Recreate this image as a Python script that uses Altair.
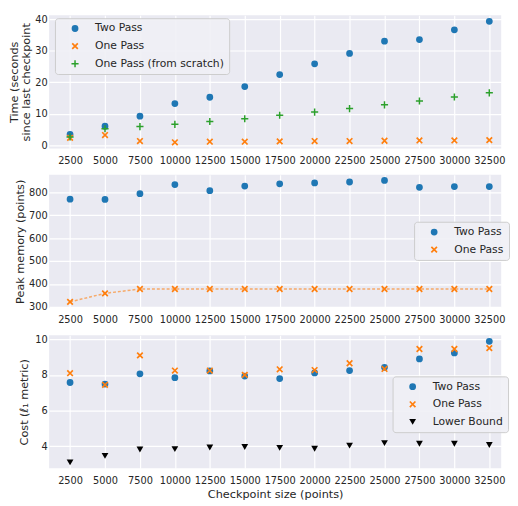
import altair as alt
import pandas as pd

checkpoints = [2500, 5000, 7500, 10000, 12500, 15000, 17500, 20000, 22500, 25000, 27500, 30000, 32500]

time_two_pass = [3.4, 6.0, 9.2, 13.2, 15.2, 18.6, 22.4, 25.8, 29.1, 33.0, 33.5, 36.6, 39.3]
time_one_pass = [2.3, 3.2, 1.3, 0.9, 1.1, 1.1, 1.2, 1.3, 1.3, 1.4, 1.5, 1.5, 1.6]
time_one_pass_scratch = [2.6, 5.2, 5.9, 6.6, 7.5, 8.4, 9.5, 10.5, 11.6, 12.8, 14.0, 15.3, 16.6]

mem_two_pass = [770, 769, 794, 834, 807, 827, 837, 841, 845, 852, 822, 825, 825]
mem_one_pass = [322, 359, 378, 378, 378, 378, 378, 378, 378, 378, 378, 378, 378]

cost_two_pass = [7.58, 7.49, 8.07, 7.85, 8.23, 7.94, 7.80, 8.12, 8.25, 8.43, 8.90, 9.24, 9.89]
cost_one_pass = [8.10, 7.45, 9.10, 8.25, 8.25, 8.01, 8.32, 8.28, 8.66, 8.34, 9.46, 9.46, 9.51]
cost_lower_bound = [3.10, 3.46, 3.82, 3.84, 3.93, 3.96, 3.91, 3.86, 4.04, 4.18, 4.14, 4.14, 4.07]

S_TWO = "Two Pass"
S_ONE = "One Pass"
S_SCR = "One Pass (from scratch)"
S_LB = "Lower Bound"

colors = {S_TWO: "#1f77b4", S_ONE: "#ff7f0e", S_SCR: "#2ca02c", S_LB: "#000000"}
X_PATH = ("M-0.65,-1.0L1.0,0.65L0.65,1.0L-1.0,-0.65Z"
          "M0.65,-1.0L1.0,-0.65L-0.65,1.0L-1.0,0.65Z")
PLUS_PATH = ("M-1.05,-0.22L-0.22,-0.22L-0.22,-1.05L0.22,-1.05L0.22,-0.22L1.05,-0.22"
             "L1.05,0.22L0.22,0.22L0.22,1.05L-0.22,1.05L-0.22,0.22L-1.05,0.22Z")
shapes = {S_TWO: "circle", S_ONE: X_PATH, S_SCR: PLUS_PATH, S_LB: "triangle-down"}

W = 462
H = 136
X_DOMAIN = [1000, 33350]
FONT = "DejaVu Sans"
MSIZE = 48


def long_df(series):
    rows = []
    for name, vals in series:
        for c, v in zip(checkpoints, vals):
            rows.append({"checkpoint": c, "value": v, "series": name})
    return pd.DataFrame(rows)


def x_enc(title):
    ax = dict(values=checkpoints, format="d", labelOverlap=False, labelPadding=7,
              titlePadding=4)
    return alt.X("checkpoint:Q", scale=alt.Scale(domain=X_DOMAIN, nice=False, zero=False),
                 axis=alt.Axis(title=title, **ax))


def y_enc(y_title, y_domain, y_values, title_pad):
    return alt.Y("value:Q", scale=alt.Scale(domain=y_domain, nice=False, zero=False),
                 axis=alt.Axis(title=y_title, values=y_values, titlePadding=title_pad,
                               labelOverlap=False))


def points(df, series_list, y_title, y_domain, y_values, lx, ly, x_title, title_pad):
    legend = alt.Legend(orient="none", legendX=lx, legendY=ly, title=None)
    return alt.Chart(df).mark_point(filled=True, size=MSIZE, opacity=1).encode(
        x=x_enc(x_title),
        y=y_enc(y_title, y_domain, y_values, title_pad),
        color=alt.Color("series:N", sort=series_list, legend=legend,
                        scale=alt.Scale(domain=series_list, range=[colors[s] for s in series_list])),
        shape=alt.Shape("series:N", sort=series_list, legend=legend,
                        scale=alt.Scale(domain=series_list, range=[shapes[s] for s in series_list])),
    )


df_time = long_df([(S_TWO, time_two_pass), (S_ONE, time_one_pass), (S_SCR, time_one_pass_scratch)])
top = points(df_time, [S_TWO, S_ONE, S_SCR], ["Time (seconds", "since last checkpoint"],
             [-1.02, 41.2], [0, 10, 20, 30, 40], 6, 3, None, 3).properties(width=W, height=H)

MEM_DOMAIN = [295.6, 876.4]
MEM_TICKS = [300, 400, 500, 600, 700, 800]
df_mem = long_df([(S_TWO, mem_two_pass), (S_ONE, mem_one_pass)])
df_mem_line = long_df([(S_ONE, mem_one_pass)])
mem_line = alt.Chart(df_mem_line).mark_line(
    color="#ff7f0e", opacity=0.6, strokeDash=[3, 2], strokeWidth=1.5
).encode(
    x=x_enc(None),
    y=y_enc("Peak memory (points)", MEM_DOMAIN, MEM_TICKS, 3),
)
mem_pts = points(df_mem, [S_TWO, S_ONE], "Peak memory (points)", MEM_DOMAIN,
                 MEM_TICKS, 373, 48, None, 3)
mid = alt.layer(mem_line, mem_pts).properties(width=W, height=H)

df_cost = long_df([(S_TWO, cost_two_pass), (S_ONE, cost_one_pass), (S_LB, cost_lower_bound)])
bot = points(df_cost, [S_TWO, S_ONE, S_LB], "Cost (ℓ₁ metric)", [2.76, 10.23],
             [4, 6, 8, 10], 351, 42, "Checkpoint size (points)", 5).properties(width=W, height=H)

chart = alt.vconcat(top, mid, bot, spacing=10).resolve_scale(
    color="independent", shape="independent"
).properties(padding=0).configure_view(
    fill="#EAEAF2", stroke=None
).configure_axis(
    grid=True, gridColor="white", gridWidth=1.2, domain=False, ticks=False,
    labelFont=FONT, labelFontSize=10, labelColor="#262626", labelPadding=2,
    titleFont=FONT, titleFontSize=11.5, titleColor="#262626", titleFontWeight="normal",
    titleLineHeight=13,
).configure_axisX(labelPadding=7).configure_legend(
    labelFont=FONT, labelFontSize=11, labelColor="#262626", symbolSize=MSIZE,
    rowPadding=6, padding=5, symbolOffset=10, labelOffset=15,
    fillColor="rgba(240,240,245,0.9)", strokeColor="#cccccc", cornerRadius=3,
    symbolStrokeWidth=0,
)

chart.save("out.html", embed_options={"renderer": "svg", "actions": False})
